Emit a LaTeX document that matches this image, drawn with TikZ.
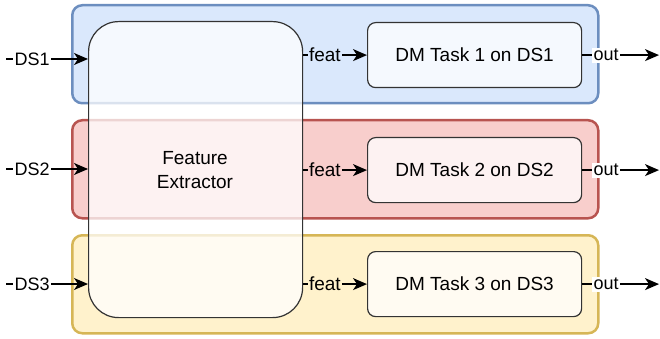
\documentclass[tikz,border=0pt]{standalone}
\usepackage{fontspec}
\setmainfont{Liberation Sans}
\usetikzlibrary{arrows.meta}
\definecolor{bfill}{HTML}{DAE8FC}\definecolor{bline}{HTML}{6C8EBF}
\definecolor{rfill}{HTML}{F8CECC}\definecolor{rline}{HTML}{B85450}
\definecolor{yfill}{HTML}{FFF2CC}\definecolor{yline}{HTML}{D6B656}
\definecolor{inline}{HTML}{333333}
\tikzset{
  group/.style={draw=#1line, fill=#1fill, line width=2.5pt, rounded corners=10pt,
    minimum width=526pt, minimum height=98pt, anchor=north west, inner sep=0pt},
  fe/.style={draw=inline, fill=white, fill opacity=0.75, text opacity=1, line width=1.2pt,
    rounded corners=30pt, minimum width=214pt, minimum height=296pt, anchor=north west,
    align=center, font=\fontsize{19}{24}\selectfont},
  taskbox/.style={draw=inline, fill=white, fill opacity=0.75, text opacity=1, line width=1.2pt,
    rounded corners=8pt, minimum width=214pt, minimum height=65pt, anchor=north west,
    font=\fontsize{19}{23}\selectfont},
  arr/.style={line width=1.5pt, -{Stealth[length=14pt,width=12pt,inset=4pt]}},
  lbl/.style={fill=white, inner sep=1.5pt, font=\fontsize{18}{20}\selectfont},
  flbl/.style={fill=#1, inner sep=1.5pt, font=\fontsize{19}{20}\selectfont},
}
\begin{document}
\begin{tikzpicture}[x=1pt,y=-1pt]
\useasboundingbox (0,0) rectangle (660,339);
\node[group=b] (g1) at (71,4) {};
\node[group=r] (g2) at (71,119) {};
\node[group=y] (g3) at (71,234) {};
\node[fe] (fe) at (88,21) {};
\node at (195,170) [font=\fontsize{19}{24}\selectfont, align=center] (fetext) {Feature\\Extractor};
\node[taskbox] (t1) at (367,22) {};
\node[taskbox] (t2) at (367,137) {};
\node[taskbox] (t3) at (367,251) {};
\node at (t1.center) [font=\fontsize{19}{23}\selectfont] (t1l) {DM Task 1 on DS1};
\node at (t2.center) [font=\fontsize{19}{23}\selectfont] (t2l) {DM Task 2 on DS2};
\node at (t3.center) [font=\fontsize{19}{23}\selectfont] (t3l) {DM Task 3 on DS3};
\coordinate (in1) at (6,59);
\coordinate (in2) at (6,169);
\coordinate (in3) at (6,284);
\coordinate (oe) at (659,0);
\draw[arr] (in1) -- node[lbl, pos=0.32] (d1) {DS1} (in1 -| fe.west);
\draw[arr] (in2) -- node[lbl, pos=0.32] (d2) {DS2} (in2 -| fe.west);
\draw[arr] (in3) -- node[lbl, pos=0.32] (d3) {DS3} (in3 -| fe.west);
\draw[arr] (fe.east |- t1.west) -- node[flbl=bfill, pos=0.34] (f1) {feat} (t1.west);
\draw[arr] (fe.east |- t2.west) -- node[flbl=rfill, pos=0.34] (f2) {feat} (t2.west);
\draw[arr] (fe.east |- t3.west) -- node[flbl=yfill, pos=0.34] (f3) {feat} (t3.west);
\draw[arr] (t1.east) -- node[lbl, pos=0.31] (o1) {out} (t1.east -| oe);
\draw[arr] (t2.east) -- node[lbl, pos=0.31] (o2) {out} (t2.east -| oe);
\draw[arr] (t3.east) -- node[lbl, pos=0.31] (o3) {out} (t3.east -| oe);
\end{tikzpicture}
\end{document}
